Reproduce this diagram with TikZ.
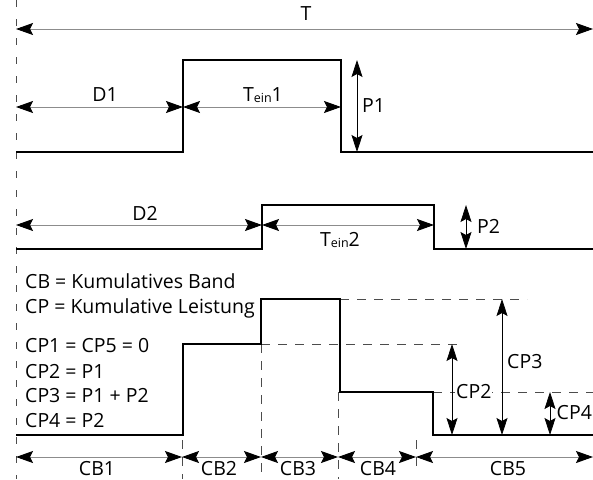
\documentclass[tikz,border=0pt]{standalone}
\usepackage{fontspec}
\setmainfont{Open Sans}
\usetikzlibrary{arrows.meta}
\begin{document}
\begin{tikzpicture}[x=1pt,y=-1pt,
  wave/.style={line width=2.2pt,line join=miter},
  dim/.style={draw=black!45,line width=0.9pt,{Stealth[length=17pt,width=12pt,inset=3pt,color=black]}-{Stealth[length=17pt,width=12pt,inset=3pt,color=black]}},
  vdim/.style={draw=black,line width=0.8pt,{Stealth[length=17pt,width=11pt,inset=3pt]}-{Stealth[length=17pt,width=11pt,inset=3pt]}},
  mainguide/.style={draw=black!70,line width=0.9pt,dash pattern=on 7pt off 12pt},
  guide/.style={draw=black!70,line width=0.9pt,dash pattern=on 9pt off 8pt},
  lbl/.style={font=\fontsize{19.5}{21}\selectfont,inner sep=1pt},
  txt/.style={font=\fontsize{19.5}{21}\selectfont,inner sep=0pt,anchor=base west}]
\useasboundingbox (0,0) rectangle (593,479);
\fill[white] (0,0) rectangle (593,479);
\newcommand{\tein}[1]{T\raisebox{-0.5pt}{\fontsize{12.5}{12.5}\selectfont ein}#1}
% coordinates
\coordinate (g0) at (16,0);
\coordinate (g1) at (16,479);
\coordinate (tL) at (16,29);
\coordinate (tR) at (593,29);
% main guide
\draw[mainguide] (g0) -- (g1);
% T
\draw[dim] (tL) -- (tR);
\node[lbl] (T) at (306,14) {T};
% waveform 1
\coordinate (a0) at (16,152);
\coordinate (a1) at (183,152);
\coordinate (a2) at (183,60);
\coordinate (a3) at (341,60);
\coordinate (a4) at (341,152);
\coordinate (a5) at (593,152);
\draw[wave] (a0) -- (a1) -- (a2) -- (a3) -- (a4) -- (a5);
\coordinate (d1L) at (16,107);
\coordinate (d1R) at (183,107);
\coordinate (e1R) at (341,107);
\draw[dim] (d1L) -- (d1R);
\draw[dim] (d1R) -- (e1R);
\node[lbl] (D1) at (105,95) {D1};
\node[lbl] (E1) at (263,95) {\tein{1}};
\coordinate (p1T) at (357,60);
\coordinate (p1B) at (357,152);
\draw[vdim] (p1T) -- (p1B);
\node[lbl,anchor=west] (P1) at (361,106) {P1};
% waveform 2
\coordinate (b0) at (16,249);
\coordinate (b1) at (262,249);
\coordinate (b2) at (262,205);
\coordinate (b3) at (434,205);
\coordinate (b4) at (434,249);
\coordinate (b5) at (593,249);
\draw[wave] (b0) -- (b1) -- (b2) -- (b3) -- (b4) -- (b5);
\coordinate (d2L) at (16,225);
\coordinate (d2R) at (262,225);
\coordinate (e2R) at (434,225);
\draw[dim] (d2L) -- (d2R);
\draw[dim] (d2R) -- (e2R);
\node[lbl] (D2) at (145,213) {D2};
\node[lbl] (E2) at (340,240) {\tein{2}};
\coordinate (p2T) at (466,205);
\coordinate (p2B) at (466,249);
\draw[vdim] (p2T) -- (p2B);
\node[lbl,anchor=west] (P2) at (476,226) {P2};
% text block
\node[txt] (t1) at (25,288) {CB = Kumulatives Band};
\node[txt] (t2) at (25,313) {CP = Kumulative Leistung};
\node[txt] (t3) at (25,352) {CP1 = CP5 = 0};
\node[txt] (t4) at (25,378) {CP2 = P1};
\node[txt] (t5) at (25,402) {CP3 = P1 + P2};
\node[txt] (t6) at (25,427) {CP4 = P2};
% waveform 3
\coordinate (c0) at (16,435);
\coordinate (c1) at (183,435);
\coordinate (c2) at (183,344);
\coordinate (c3) at (261,344);
\coordinate (c4) at (261,299);
\coordinate (c5) at (340,299);
\coordinate (c6) at (340,392);
\coordinate (c7) at (433,392);
\coordinate (c8) at (433,435);
\coordinate (c9) at (593,435);
% dashed guides
\coordinate (h3R) at (527,299);
\coordinate (h2R) at (463,344);
\coordinate (h4R) at (593,392);
\draw[guide] (c5) -- (h3R);
\draw[guide] (c3) -- (h2R);
\draw[guide] (c7) -- (h4R);
\coordinate (v1T) at (182,440);
\coordinate (v1B) at (182,479);
\coordinate (v2B) at (261,479);
\coordinate (v3T) at (338,392);
\coordinate (v3B) at (338,479);
\coordinate (v4T) at (416,440);
\coordinate (v4B) at (416,472);
\draw[guide] (v1T) -- (v1B);
\draw[guide] (c3) -- (v2B);
\draw[guide] (v3T) -- (v3B);
\draw[guide] (v4T) -- (v4B);
\draw[wave] (c0) -- (c1) -- (c2) -- (c3) -- (c4) -- (c5) -- (c6) -- (c7) -- (c8) -- (c9);
% CP arrows
\coordinate (cp2T) at (452,344);
\coordinate (cp2B) at (452,435);
\coordinate (cp3T) at (502,299);
\coordinate (cp3B) at (502,435);
\coordinate (cp4T) at (550,392);
\coordinate (cp4B) at (550,435);
\draw[vdim] (cp2T) -- (cp2B);
\draw[vdim] (cp3T) -- (cp3B);
\draw[vdim] (cp4T) -- (cp4B);
\node[lbl,anchor=west,fill=white] (CP2) at (455,392) {CP2};
\node[lbl,anchor=west] (CP3) at (506,362) {CP3};
\node[lbl,anchor=west,fill=white,inner sep=0.5pt] (CP4) at (556,413) {CP4};
% CB arrows
\coordinate (k0) at (16,457);
\coordinate (k1) at (182,457);
\coordinate (k2) at (261,457);
\coordinate (k3) at (338,457);
\coordinate (k4) at (416,457);
\coordinate (k5) at (593,457);
\draw[dim] (k0) -- (k1);
\draw[dim] (k1) -- (k2);
\draw[dim] (k2) -- (k3);
\draw[dim] (k3) -- (k4);
\draw[dim] (k4) -- (k5);
\node[txt,anchor=base] (CB1) at (97,475) {CB1};
\node[txt,anchor=base] (CB2) at (219,475) {CB2};
\node[txt,anchor=base] (CB3) at (298,475) {CB3};
\node[txt,anchor=base] (CB4) at (378,475) {CB4};
\node[txt,anchor=base] (CB5) at (508,475) {CB5};
\end{tikzpicture}
\end{document}
